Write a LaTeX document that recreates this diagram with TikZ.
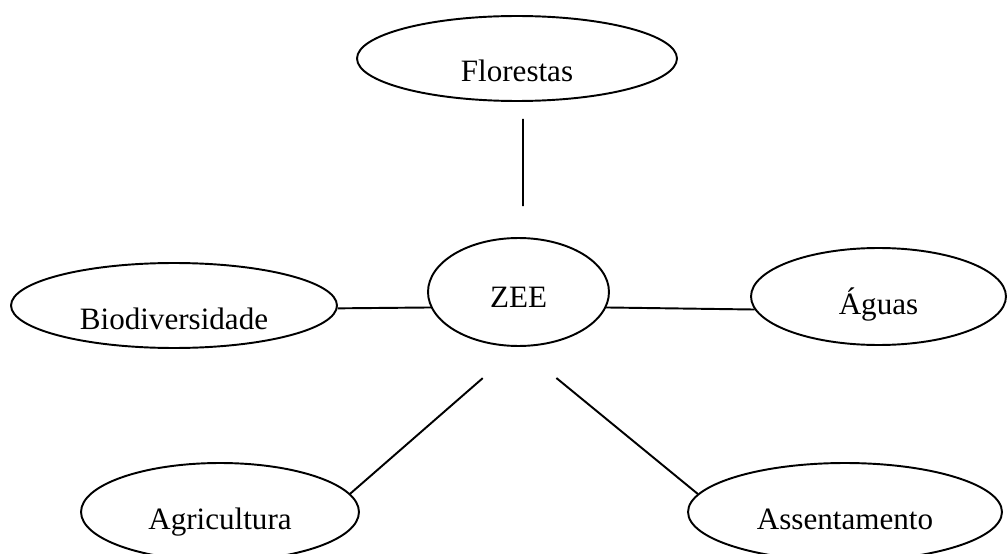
\documentclass[tikz,border=0pt]{standalone}
\usepackage{fontspec}
\setmainfont{Liberation Serif}
\usetikzlibrary{shapes.geometric}

\begin{document}
\begin{tikzpicture}[
    x=0.02cm, y=-0.02cm,
    bubble/.style={ellipse, draw, line width=1.1pt, inner sep=0pt, text depth=0pt,
        font=\fontsize{17.7}{21}\selectfont},
    link/.style={line width=1.1pt}
]
    \useasboundingbox (0,0) rectangle (1008,554);

    \node[bubble, minimum width=6.4cm, minimum height=1.7cm, text height=0.94cm] (flor) at (517,58.5) {Florestas};
    \node[bubble, minimum width=3.62cm, minimum height=2.16cm, text height=0.64cm] (zee) at (518.5,292) {ZEE};
    \node[bubble, minimum width=6.52cm, minimum height=1.7cm, text height=0.98cm] (bio) at (174,305.5) {Biodiversidade};
    \node[bubble, minimum width=5.1cm, minimum height=1.94cm, text height=0.74cm] (agua) at (878.5,296.5) {Águas};
    \node[bubble, minimum width=5.56cm, minimum height=1.96cm, text height=0.72cm] (agri) at (220,512) {Agricultura};
    \node[bubble, minimum width=6.28cm, minimum height=1.96cm, text height=0.72cm] (assent) at (845,512) {Assentamento};

    \draw[link, shorten <=0.34cm, shorten >=0.62cm] ([xshift=0.12cm]flor.south) -- ([xshift=0.09cm]zee.north);
    \draw[link] (bio.-1) -- (zee.190);
    \draw[link] (zee.-10) -- (agua.186);
    \draw[link, shorten >=0.95cm] (agri.8) -- (zee.south);
    \draw[link, shorten >=0.98cm] (assent.173) -- (zee.south);
\end{tikzpicture}
\end{document}
